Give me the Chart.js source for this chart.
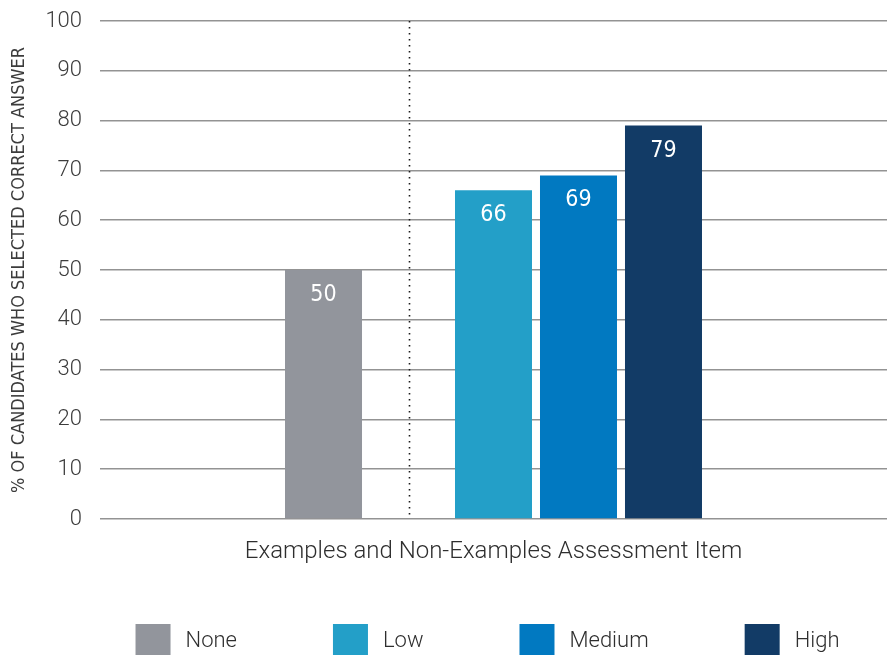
<!DOCTYPE html>
<html>
<head>
<meta charset="utf-8">
<title>Examples and Non-Examples Assessment Item</title>
<script src="https://cdn.jsdelivr.net/npm/chart.js@4.4.1/dist/chart.umd.min.js"></script>
<style>
  html, body { margin: 0; padding: 0; background: #fff; }
  #wrap { width: 887px; height: 655px; position: relative; }
</style>
</head>
<body>
<div id="wrap"><canvas id="chart"></canvas></div>
<script>
// values
const categories = ['Examples and Non-Examples Assessment Item'];
const levels = ['None', 'Low', 'Medium', 'High'];
const noneValues = [50];
const lowValues = [66];
const mediumValues = [69];
const highValues = [79];
const yTicks = [0, 10, 20, 30, 40, 50, 60, 70, 80, 90, 100];

const colors = {
  None: '#92959c',
  Low: '#239fc8',
  Medium: '#0179c1',
  High: '#123b66'
};

// first installed family from a list (compared against monospace widths)
function pickFont(list, fallback) {
  const c = document.createElement('canvas').getContext('2d');
  const probe = 'WHO SELECTED CORRECT 0123456789';
  c.font = '40px monospace';
  const base = c.measureText(probe).width;
  for (const f of list) {
    c.font = '40px "' + f + '", monospace';
    if (c.measureText(probe).width !== base) return '"' + f + '", ' + fallback;
  }
  return fallback;
}

const lightFont = 'Roboto, "Liberation Sans", sans-serif';
const narrowFont = pickFont(['Liberation Sans Narrow', 'DejaVu Sans Condensed', 'Roboto Condensed'], lightFont);

function bar(label, data) {
  return { label: label, data: data, backgroundColor: colors[label], borderWidth: 0 };
}

// an empty slot sits between "None" and the rated levels, the dotted divider goes through it
const datasets = [
  bar('None', noneValues),
  { label: '__gap', data: [null], backgroundColor: 'rgba(0,0,0,0)' },
  bar('Low', lowValues),
  bar('Medium', mediumValues),
  bar('High', highValues)
];

// dotted divider through the empty slot
const dividerPlugin = {
  id: 'divider',
  afterDatasetsDraw(chart) {
    const el = chart.getDatasetMeta(1).data[0];
    if (!el) return;
    const area = chart.chartArea;
    const ctx = chart.ctx;
    ctx.save();
    ctx.strokeStyle = '#1a1a1a';
    ctx.lineWidth = 1.6;
    ctx.setLineDash([1.6, 4.4]);
    ctx.beginPath();
    ctx.moveTo(el.x + 1, area.top);
    ctx.lineTo(el.x + 1, area.bottom);
    ctx.stroke();
    ctx.restore();
  }
};

// white value labels inside the top of each bar
const valueLabels = {
  id: 'valueLabels',
  afterDatasetsDraw(chart) {
    const ctx = chart.ctx;
    ctx.save();
    ctx.fillStyle = '#ffffff';
    ctx.font = '23px ' + narrowFont;
    ctx.textAlign = 'center';
    ctx.textBaseline = 'middle';
    chart.data.datasets.forEach((ds, i) => {
      if (ds.label === '__gap') return;
      chart.getDatasetMeta(i).data.forEach((el, j) => {
        const v = ds.data[j];
        if (v == null) return;
        ctx.fillText(String(v), el.x, el.y + 25);
      });
    });
    ctx.restore();
  }
};

// wide-spaced legend row under the axis label
const legendRow = {
  id: 'legendRow',
  afterDraw(chart) {
    const ctx = chart.ctx;
    const area = chart.chartArea;
    const box = { w: 35, h: 31 };
    const textGap = 15;
    const itemGap = 96;
    const top = chart.height - 31;
    ctx.save();
    ctx.font = '300 22px ' + lightFont;
    ctx.textBaseline = 'middle';
    ctx.textAlign = 'left';
    const widths = levels.map(l => box.w + textGap + ctx.measureText(l).width);
    const total = widths.reduce((a, b) => a + b, 0) + itemGap * (levels.length - 1);
    let x = (area.left + area.right) / 2 - 6 - total / 2;
    levels.forEach((l, i) => {
      ctx.fillStyle = colors[l];
      ctx.fillRect(x, top, box.w, box.h);
      ctx.fillStyle = '#2e2e2e';
      ctx.fillText(l, x + box.w + textGap, top + box.h / 2 + 2);
      x += widths[i] + itemGap;
    });
    ctx.restore();
  }
};

new Chart(document.getElementById('chart'), {
  type: 'bar',
  data: { labels: categories, datasets: datasets },
  options: {
    responsive: true,
    maintainAspectRatio: false,
    animation: false,
    layout: { padding: { top: 21, right: 0, bottom: 60, left: 0 } },
    datasets: {
      bar: { categoryPercentage: 0.54, barPercentage: 0.906 }
    },
    scales: {
      x: {
        grid: { display: false, drawTicks: false },
        border: { display: false },
        ticks: {
          color: '#2e2e2e',
          padding: 19,
          font: { family: lightFont, size: 24, weight: 300 }
        },
        afterFit(scale) { scale.height = 76; }
      },
      y: {
        min: 0,
        max: 100,
        afterBuildTicks(scale) { scale.ticks = yTicks.map(v => ({ value: v })); },
        grid: { color: '#939393', lineWidth: 1.5, drawTicks: false },
        border: { display: false },
        ticks: {
          color: '#3c3c3c',
          padding: 18,
          font: { family: lightFont, size: 22, weight: 300 }
        },
        title: {
          display: true,
          text: '% OF CANDIDATES WHO SELECTED CORRECT ANSWER',
          color: '#3c3c3c',
          font: { family: narrowFont, size: 18 },
          padding: { top: 9, bottom: 0 }
        },
        afterFit(scale) {
          scale.width = 100;
          // tick labels may overhang the plot; keep the plot edge on the layout padding
          scale.paddingTop = 0;
          scale.paddingBottom = 0;
        }
      }
    },
    plugins: {
      legend: { display: false },
      tooltip: { enabled: false }
    }
  },
  plugins: [dividerPlugin, valueLabels, legendRow]
});
</script>
</body>
</html>
